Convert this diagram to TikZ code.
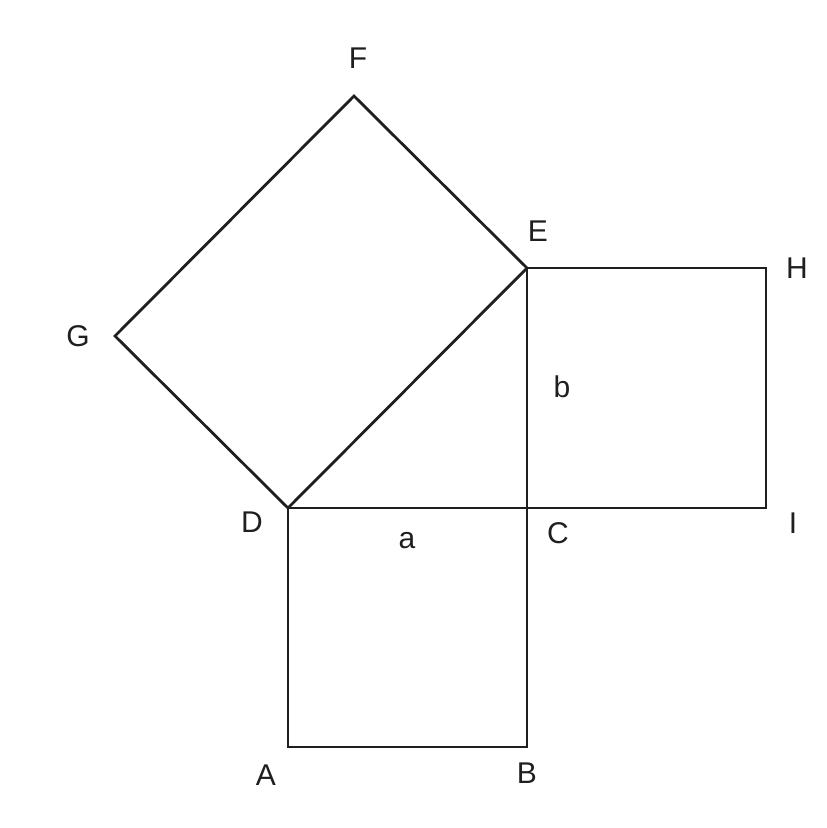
\documentclass[tikz,border=0pt]{standalone}
\usepackage{fontspec}
\setmainfont{Liberation Sans}
\begin{document}
\begin{tikzpicture}[x=1pt,y=-1pt,
  edge/.style={line width=2.8pt,draw=black!88,line join=miter},
  lbl/.style={inner sep=0pt,font=\fontsize{30}{34}\selectfont,text=black!88}]
\useasboundingbox (0,0) rectangle (827,828);
\coordinate (A) at (288,747);
\coordinate (B) at (527,747);
\coordinate (C) at (527,508);
\coordinate (D) at (288,508);
\coordinate (E) at (527,268);
\coordinate (H) at (766,268);
\coordinate (I) at (766,508);
\coordinate (F) at (354,96);
\coordinate (G) at (115,336);
\draw[edge] (D) -- (C) -- (B) -- (A) -- cycle;
\draw[edge] (C) -- (I) -- (H) -- (E) -- cycle;
\draw[edge] (D) -- (E) -- (F) -- (G) -- cycle;
\node[lbl] (lF) at (358,58) {F};
\node[lbl] (lE) at (538,231) {E};
\node[lbl] (lH) at (797,268) {H};
\node[lbl] (lG) at (78,336) {G};
\node[lbl] (lb) at (562,387) {b};
\node[lbl] (lD) at (252,522) {D};
\node[lbl] (la) at (407,541) {a};
\node[lbl] (lC) at (558,533) {C};
\node[lbl] (lI) at (793,523) {I};
\node[lbl] (lA) at (266,775) {A};
\node[lbl] (lB) at (527,773) {B};
\end{tikzpicture}
\end{document}
